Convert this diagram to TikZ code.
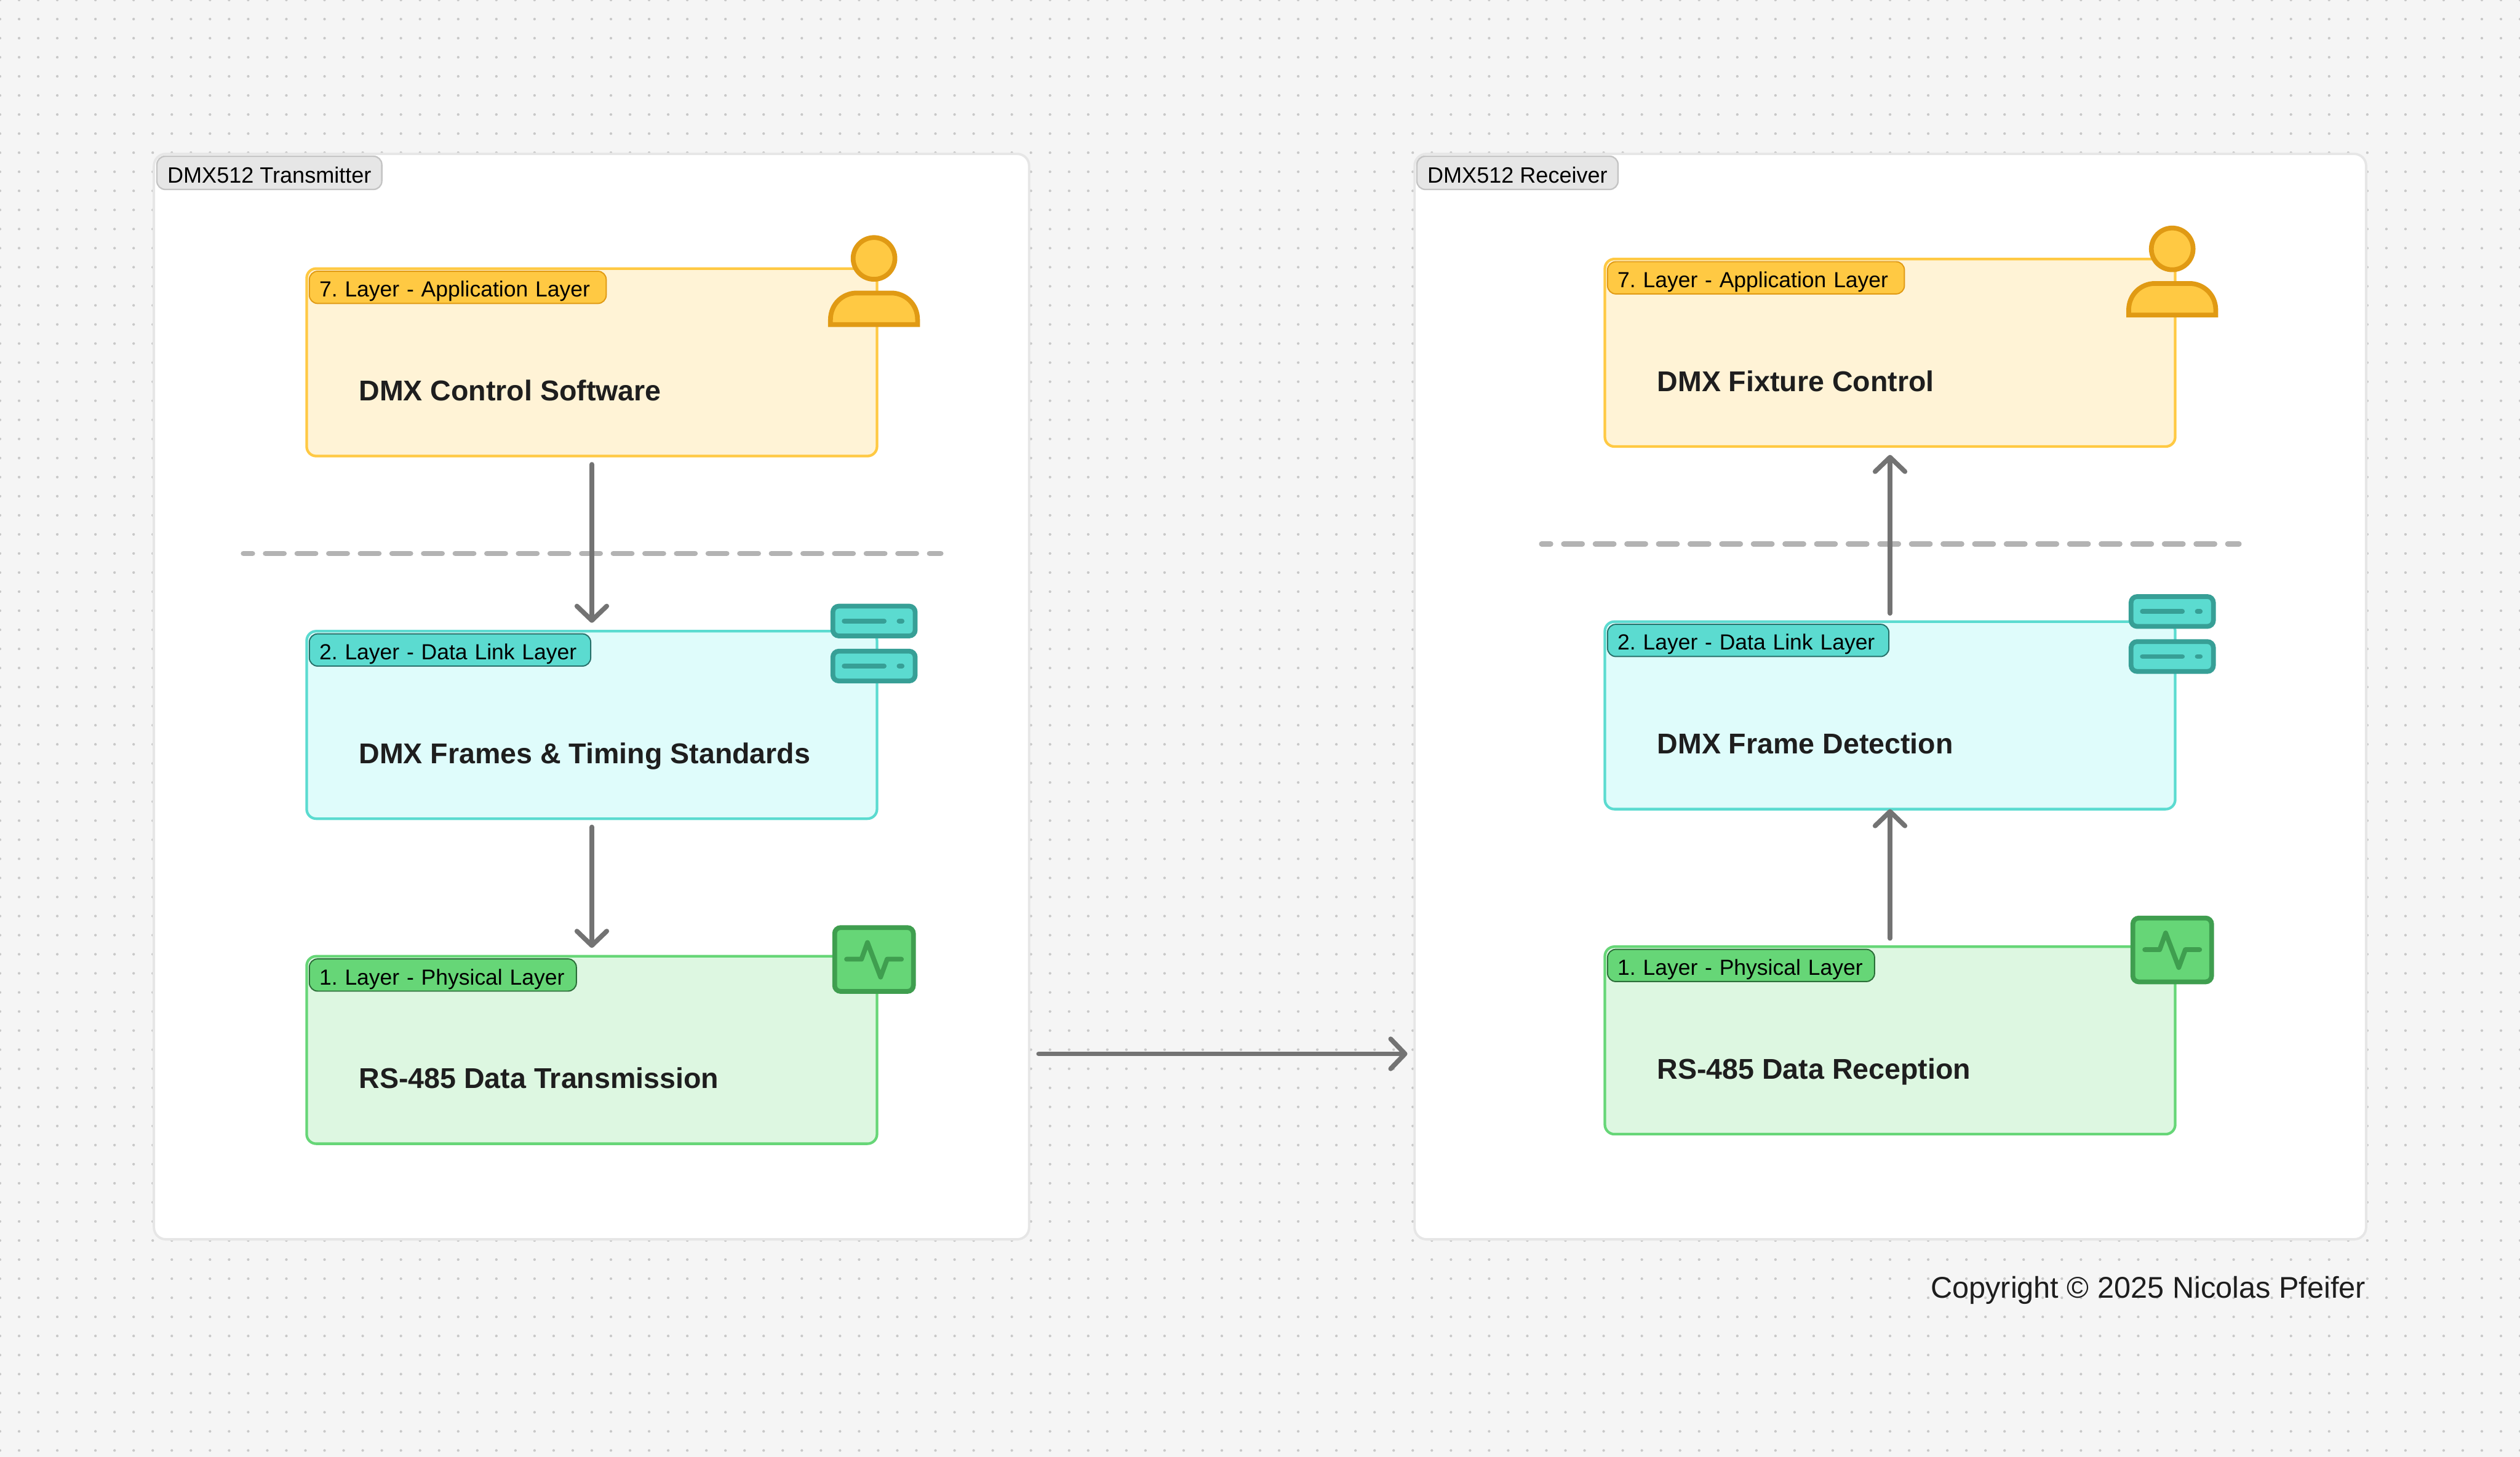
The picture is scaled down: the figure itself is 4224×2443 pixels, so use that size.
\documentclass[tikz,border=0pt]{standalone}
\usepackage{fontspec}
\setmainfont{Liberation Sans}
\usetikzlibrary{arrows.meta,positioning}

\definecolor{canvas}{HTML}{F5F5F5}
\definecolor{griddot}{HTML}{C8C8C8}
\definecolor{panelline}{HTML}{E6E6E6}
\definecolor{tagline}{HTML}{C4C4C4}
\definecolor{wire}{HTML}{737373}
\definecolor{sepline}{HTML}{B3B3B3}
\definecolor{inktext}{HTML}{1E1E1E}
\definecolor{appfill}{HTML}{FFF3D6}
\definecolor{appline}{HTML}{FFC943}
\definecolor{appdark}{HTML}{E09A14}
\definecolor{linkfill}{HTML}{DFFCFB}
\definecolor{linkline}{HTML}{5BDBD0}
\definecolor{linkdark}{HTML}{379F96}
\definecolor{linkedge}{HTML}{26706A}
\definecolor{physfill}{HTML}{DDF7E1}
\definecolor{physline}{HTML}{66D677}
\definecolor{physdark}{HTML}{3F9E4F}
\definecolor{physedge}{HTML}{2B6E38}

\tikzset{
  panel/.style={draw=panelline, line width=1pt, fill=white, rounded corners=5pt,
    anchor=north west, minimum height=455pt, inner sep=0pt, outer sep=0pt},
  paneltag/.style={draw=tagline, line width=.6pt, fill=panelline, rounded corners=3.5pt,
    anchor=north west, font=\fontsize{9.3}{10}\selectfont, text=black, inner xsep=4.4pt, inner ysep=0pt,
    text height=11.1pt, text depth=2.8pt, outer sep=0pt},
  laybox/.style={line width=1.1pt, rounded corners=4pt, minimum width=239pt,
    minimum height=78.6pt, inner sep=0pt, outer sep=0pt},
  appbox/.style={laybox, draw=appline, fill=appfill},
  linkbox/.style={laybox, draw=linkline, fill=linkfill},
  physbox/.style={laybox, draw=physline, fill=physfill},
  badge/.style={line width=.5pt, rounded corners=3.5pt, font=\fontsize{9.15}{10}\selectfont\frenchspacing, text=black,
    align=left, text width=#1, inner xsep=4.2pt, inner ysep=0pt, text height=10.8pt,
    text depth=2.7pt, outer sep=0pt, anchor=north west},
  layertext/.style={anchor=base west, font=\fontsize{12}{14}\selectfont\bfseries, text=inktext,
    inner sep=0pt},
  wirearrow/.style={draw=wire, line width=2pt, line cap=round,
    -{Straight Barb[length=6pt,width=12.5pt,round]}},
  sepdash/.style={draw=sepline, line width=2.2pt, line cap=round, dash pattern=on 7.8pt off 5.45pt, dash phase=4pt},
  % icons, placed at the corner of their box
  personicon/.pic={
    \draw[draw=appdark, fill=appline, line width=2pt] (-5,-17) circle[radius=35];
    \draw[draw=appdark, fill=appline, line width=2pt, miter limit=4]
      (-78,94) -- (-78,86) .. controls (-78,59) and (-57,41) .. (-34,41) -- (24,41)
      .. controls (47,41) and (68,59) .. (68,86) -- (68,94) -- cycle;
  },
  racktwo/.pic={
    \foreach \yy in {-17,58.5}{
      \draw[draw=linkdark, fill=linkline, line width=2pt, rounded corners=2.5pt]
        (-74,\yy-25) rectangle (64,\yy+25);
      \draw[draw=linkdark, line width=2pt, line cap=round] (-55,\yy) -- (12,\yy);
      \draw[draw=linkdark, line width=2pt, line cap=round] (37,\yy) -- (42,\yy);
    }
  },
  pulseicon/.pic={
    \draw[draw=physdark, fill=physline, line width=2pt, rounded corners=2.5pt]
      (-71,-48) rectangle (61,59);
    \draw[draw=physdark, line width=2pt, line cap=round, line join=round]
      (-51,5) -- (-26,5) -- (-16,-23) -- (6,35) -- (17,5) -- (41,5);
  }
}

\begin{document}
\begin{tikzpicture}[x=.25pt, y=-.25pt]
  \useasboundingbox (0,0) rectangle (4224,2443);
  % Canvas with the dot grid
  \fill[canvas] (0,0) rectangle (4224,2443);
  \foreach \gy in {0,32,...,2443}{
    \draw[griddot, line width=1.1pt, line cap=round, dash pattern=on 0pt off 8pt] (0,\gy) -- (4224,\gy);
  }

  % Transmitter and receiver panels
  \node[panel, minimum width=366.75pt] (txpanel) at (258,258) {};
  \node[panel, minimum width=398.75pt] (rxpanel) at (2371,258) {};
  \node[paneltag] (txtag) at (263,262) {DMX512 Transmitter};
  \node[paneltag] (rxtag) at (2375,262) {DMX512 Receiver};

  % Transmitter stack
  \node[appbox] (txapp) at (992,607.5) {};
  \node[linkbox] (txlink) at (992,1215.5) {};
  \node[physbox] (txphys) at (992,1760.5) {};
  \node[badge=116pt, fill=appline, draw=appdark] (txappbadge) at ([shift={(4.5,4.5)}]txapp.north west) {7. Layer - Application Layer};
  \node[badge=109.5pt, fill=linkline, draw=linkedge] (txlinkbadge) at ([shift={(4.5,4.5)}]txlink.north west) {2. Layer - Data Link Layer};
  \node[badge=103.5pt, fill=physline, draw=physedge] (txphysbadge) at ([shift={(4.5,4.5)}]txphys.north west) {1. Layer - Physical Layer};
  \node[layertext] (txapptext) at (601,672) {DMX Control Software};
  \node[layertext] (txlinktext) at (601,1280) {DMX Frames \& Timing Standards};
  \node[layertext] (txphystext) at (601,1825) {RS-485 Data Transmission};

  % Receiver stack
  \node[appbox] (rxapp) at (3168,591.5) {};
  \node[linkbox] (rxlink) at (3168,1199.5) {};
  \node[physbox] (rxphys) at (3168,1744.5) {};
  \node[badge=116pt, fill=appline, draw=appdark] (rxappbadge) at ([shift={(4.5,4.5)}]rxapp.north west) {7. Layer - Application Layer};
  \node[badge=109.5pt, fill=linkline, draw=linkedge] (rxlinkbadge) at ([shift={(4.5,4.5)}]rxlink.north west) {2. Layer - Data Link Layer};
  \node[badge=103.5pt, fill=physline, draw=physedge] (rxphysbadge) at ([shift={(4.5,4.5)}]rxphys.north west) {1. Layer - Physical Layer};
  \node[layertext] (rxapptext) at (2777,656) {DMX Fixture Control};
  \node[layertext] (rxlinktext) at (2777,1264) {DMX Frame Detection};
  \node[layertext] (rxphystext) at (2777,1809) {RS-485 Data Reception};

  % Dashed separators
  \coordinate (txsepa) at (408,928);
  \coordinate (txsepb) at (1577,928);
  \coordinate (rxsepa) at (2584,912);
  \coordinate (rxsepb) at (3753,912);
  \draw[sepdash] (txsepa) -- (txsepb);
  \draw[sepdash] (rxsepa) -- (rxsepb);

  % Layer arrows
  \draw[wirearrow, shorten <=3.5pt, shorten >=3.5pt] (txapp) -- (txlink);
  \draw[wirearrow, shorten <=3.5pt, shorten >=3.5pt] (txlink) -- (txphys);
  \draw[wirearrow, shorten <=3.5pt, shorten >=3.5pt] (rxlink) -- (rxapp);
  \draw[wirearrow, shorten <=3.5pt, shorten >=0pt] (rxphys) -- (rxlink);

  % Link between the two panels
  \coordinate (txport) at (txpanel.east |- 0,1767);
  \coordinate (rxport) at (rxpanel.west |- 0,1767);
  \draw[wirearrow, shorten <=4pt, shorten >=3pt] (txport) -- (rxport);

  % Icons
  \pic at (txapp.north east) {personicon};
  \pic at (rxapp.north east) {personicon};
  \pic at (txlink.north east) {racktwo};
  \pic at (rxlink.north east) {racktwo};
  \pic at (txphys.north east) {pulseicon};
  \pic at (rxphys.north east) {pulseicon};

  \node[anchor=base east, inner sep=0pt, font=\fontsize{12.55}{14}\selectfont, text=inktext] (copyline) at (3966,2176) {Copyright © 2025 Nicolas Pfeifer};
\end{tikzpicture}
\end{document}
